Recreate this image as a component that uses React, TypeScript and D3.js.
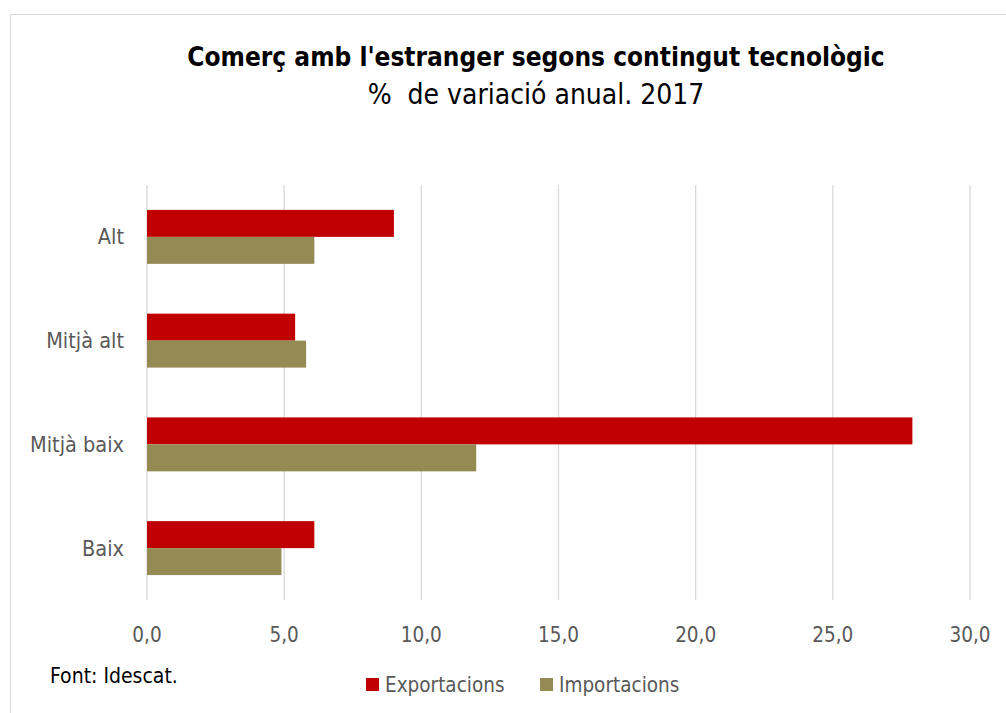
import { useRef, useEffect } from 'react';
import * as d3 from 'd3';

const categories = ['Alt', 'Mitjà alt', 'Mitjà baix', 'Baix'];
const exportacions = [9.0, 5.4, 27.9, 6.1];
const importacions = [6.1, 5.8, 12.0, 4.9];
const xTicks = [0, 5, 10, 15, 20, 25, 30];
const seriesNames = ['Exportacions', 'Importacions'];
const seriesColors = ['#c00000', '#948a54'];

const FONT = "'Liberation Sans Narrow', 'DejaVu Sans Condensed', 'Open Sans', sans-serif";

const App = () => {
  const svgRef = useRef<SVGSVGElement>(null);

  useEffect(() => {
    if (!svgRef.current) return;

    const width = 1006;
    const height = 713;
    const marginTop = 185;
    const marginRight = 36;
    const marginBottom = 113;
    const marginLeft = 147;

    const svg = d3.select(svgRef.current).attr('width', width).attr('height', height);
    svg.selectAll('*').remove();

    svg
      .append('rect')
      .attr('x', 10.5)
      .attr('y', 14.5)
      .attr('width', 1010)
      .attr('height', 720)
      .attr('fill', '#fff')
      .attr('stroke', '#d9d9d9');

    const x = d3.scaleLinear().domain([0, 30]).range([marginLeft, width - marginRight]);
    const y = d3
      .scaleBand()
      .domain(categories)
      .range([marginTop, height - marginBottom])
      .paddingInner(0.48)
      .paddingOuter(0.24);
    const inner = d3.scaleBand().domain(seriesNames).range([0, y.bandwidth()]);

    svg
      .append('g')
      .selectAll('line')
      .data(xTicks)
      .enter()
      .append('line')
      .attr('x1', (d) => x(d))
      .attr('x2', (d) => x(d))
      .attr('y1', marginTop)
      .attr('y2', height - marginBottom)
      .attr('stroke', '#d9d9d9')
      .attr('stroke-width', 1.3);

    const series = [exportacions, importacions];
    series.forEach((vals, si) => {
      svg
        .append('g')
        .attr('fill', seriesColors[si])
        .selectAll('rect')
        .data(categories)
        .enter()
        .append('rect')
        .attr('x', x(0))
        .attr('y', (d) => y(d)! + inner(seriesNames[si])!)
        .attr('width', (_, i) => x(vals[i]) - x(0))
        .attr('height', inner.bandwidth());
    });

    svg
      .append('g')
      .selectAll('text')
      .data(xTicks)
      .enter()
      .append('text')
      .attr('x', (d) => x(d))
      .attr('y', 642)
      .attr('text-anchor', 'middle')
      .attr('fill', '#595959')
      .style('font-family', FONT)
      .style('font-size', '20.5px')
      .text((d) => d3.format('.1f')(d).replace('.', ','));

    svg
      .append('g')
      .selectAll('text')
      .data(categories)
      .enter()
      .append('text')
      .attr('x', 124)
      .attr('y', (d) => y(d)! + y.bandwidth() / 2)
      .attr('dy', '0.35em')
      .attr('text-anchor', 'end')
      .attr('fill', '#595959')
      .style('font-family', FONT)
      .style('font-size', '21.5px')
      .text((d) => d);

    svg
      .append('text')
      .attr('x', 536)
      .attr('y', 66)
      .attr('text-anchor', 'middle')
      .attr('fill', '#000')
      .style('font-family', FONT)
      .style('font-size', '26px')
      .style('font-weight', 'bold')
      .text("Comerç amb l'estranger segons contingut tecnològic");

    svg
      .append('text')
      .attr('x', 536)
      .attr('y', 104)
      .attr('text-anchor', 'middle')
      .attr('fill', '#000')
      .style('font-family', FONT)
      .style('font-size', '28px')
      .style('white-space', 'pre')
      .text('%  de variació anual. 2017');

    svg
      .append('text')
      .attr('x', 50)
      .attr('y', 683)
      .attr('fill', '#000')
      .style('font-family', FONT)
      .style('font-size', '21px')
      .text('Font: Idescat.');

    const legendX = [366, 540];
    seriesNames.forEach((name, i) => {
      const g = svg.append('g').attr('transform', `translate(${legendX[i]},678)`);
      g.append('rect').attr('width', 13).attr('height', 13).attr('fill', seriesColors[i]);
      g.append('text')
        .attr('x', 19)
        .attr('y', 14)
        .attr('fill', '#595959')
        .style('font-family', FONT)
        .style('font-size', '20.5px')
        .text(name);
    });
  }, []);

  return (
    <svg ref={svgRef} style={{ position: 'absolute', left: 0, top: 0, display: 'block' }}></svg>
  );
};

export default App;
